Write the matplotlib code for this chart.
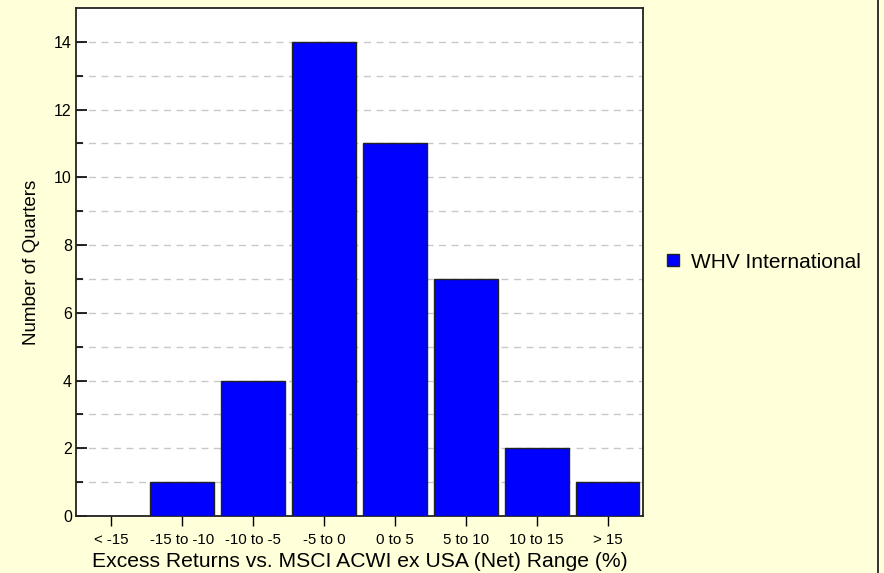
import matplotlib
matplotlib.use("Agg")
import matplotlib.pyplot as plt
from matplotlib.lines import Line2D
import numpy as np

plt.rcParams['font.family'] = ['Liberation Sans', 'DejaVu Sans']

categories = ['< -15', '-15 to -10', '-10 to -5', '-5 to 0', '0 to 5', '5 to 10', '10 to 15', '> 15']
quarters = [0, 1, 4, 14, 11, 7, 2, 1]
series_name = 'WHV International'

bg = '#FFFFD9'
fig = plt.figure(figsize=(8.84, 5.73), dpi=100, facecolor=bg)
ax = fig.add_axes([76 / 884, 1 - 516 / 573, (643 - 76) / 884, (516 - 8) / 573])
ax.set_facecolor('white')

x = np.arange(len(categories))
ax.bar(x, quarters, width=0.9, color='#0000FF', edgecolor='#222222', linewidth=1,
       label=series_name, zorder=3)

ax.set_xlim(-0.5, len(categories) - 0.5)
ax.set_ylim(0, 15)
ax.set_xticks(x)
ax.set_xticklabels(categories, fontsize=10.8)
ax.set_yticks(range(0, 15, 2))
ax.set_yticks(range(1, 15, 2), minor=True)
ax.tick_params(axis='y', which='major', direction='in', length=8, labelsize=11.5, width=1.2, pad=3)
ax.tick_params(axis='y', which='minor', direction='in', length=5, width=1.2)
ax.tick_params(axis='x', direction='out', length=7, width=1, pad=5)
ax.grid(axis='y', which='both', linestyle=(0, (5, 4)), color='#C8C8C8', linewidth=1, zorder=0)

for s in ax.spines.values():
    s.set_linewidth(1.3)
    s.set_color('#222222')

ax.set_xlabel('Excess Returns vs. MSCI ACWI ex USA (Net) Range (%)', fontsize=15.2, labelpad=4)
ax.set_ylabel('Number of Quarters', fontsize=13.5, labelpad=10)

ax.legend(loc='center left', bbox_to_anchor=(1.01, 0.5), frameon=False, fontsize=15,
          handlelength=0.55, handleheight=0.55, handletextpad=0.6)

fig.add_artist(Line2D([877.5 / 884, 877.5 / 884], [0, 1], color='#222222', linewidth=1.3))

fig.savefig('out.png', dpi=100, facecolor=bg)
